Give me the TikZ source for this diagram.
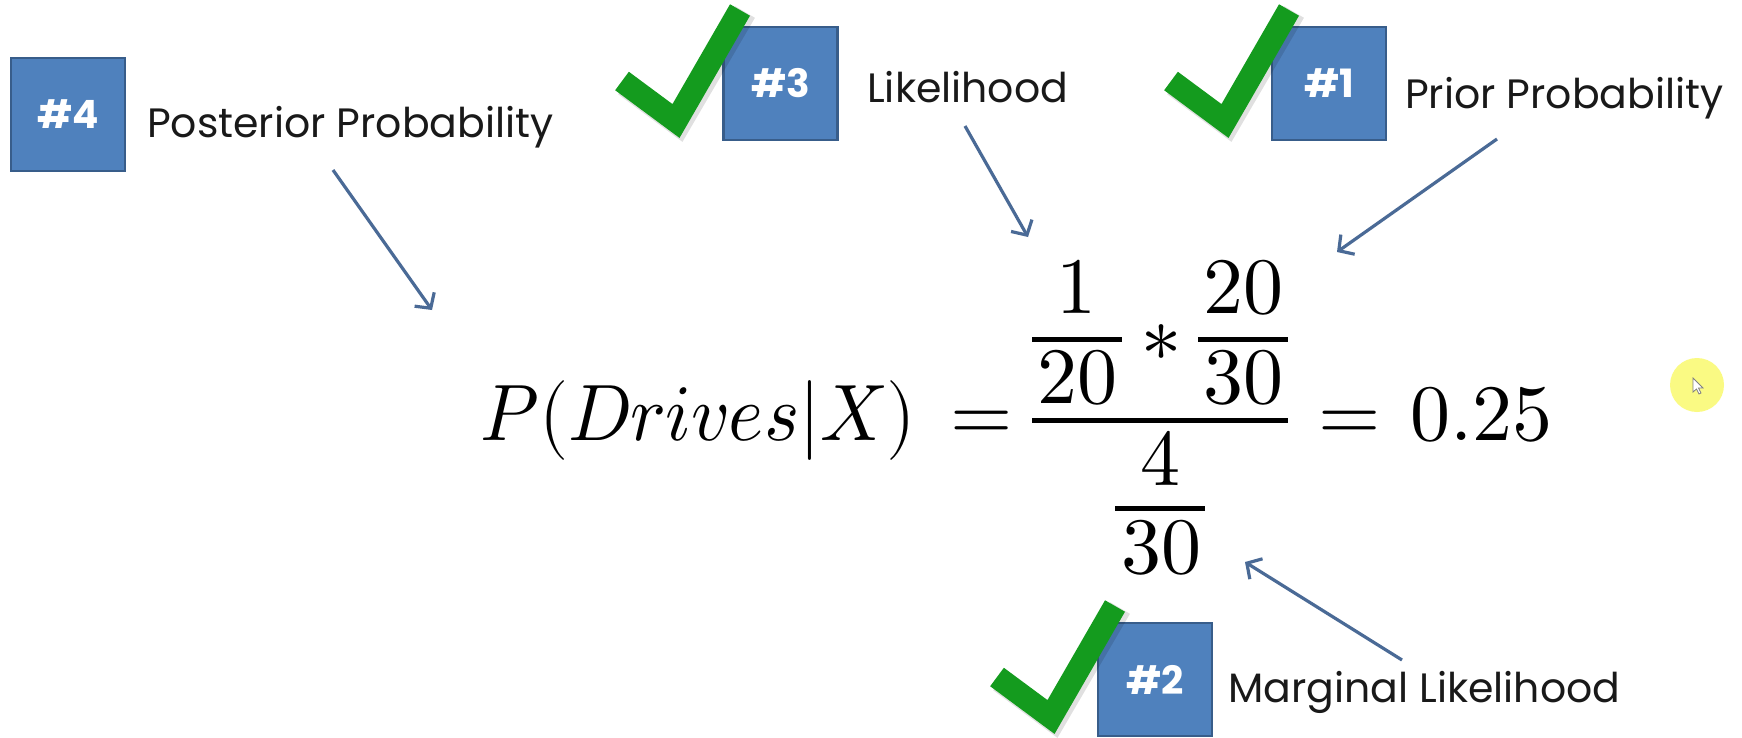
\documentclass[tikz,border=0pt]{standalone}
\usepackage{fontspec}
\usepackage{unicode-math}
\setmathfont{Latin Modern Math}
\newfontfamily\lab{Poppins}
\usetikzlibrary{arrows.meta}
\definecolor{boxblue}{RGB}{79,129,189}
\definecolor{boxedge}{RGB}{56,93,138}
\definecolor{arrowblue}{RGB}{74,106,150}
\definecolor{tickgreen}{RGB}{20,155,30}
\definecolor{labtext}{RGB}{25,25,25}
\definecolor{cursorylw}{RGB}{250,250,110}
\tikzset{
 numbox/.style={fill=boxblue, draw=boxedge, line width=2.5pt, minimum width=114pt, minimum height=113pt, inner sep=0pt, text=white, font=\lab\bfseries\fontsize{39}{47}\selectfont},
 lbl/.style={anchor=base west, inner sep=0pt, text=labtext, font=\lab\fontsize{41}{49}\selectfont},
 eq/.style={anchor=base, inner sep=0pt, font=\fontsize{80}{96}\selectfont},
 ptr/.style={draw=arrowblue, line width=3.2pt, -{Straight Barb[length=11pt,width=24pt]}},
 tick/.style={draw=tickgreen, line width=23pt, line join=miter, line cap=butt},
 tickshadow/.style={draw=black, opacity=0.12, line width=23pt, line join=miter, line cap=butt},
 fracbar/.style={line width=5pt, draw=black}
}
\begin{document}
\begin{tikzpicture}[x=1pt,y=-1pt]
\useasboundingbox (0,0) rectangle (1742,737);
\fill[white] (0,0) rectangle (1742,737);

% cursor highlight
\fill[cursorylw, opacity=0.85] (1697,385) circle[radius=27pt];
\filldraw[fill=white, draw=gray, line width=0.8pt, shift={(1693,378)}]
  (0,0) -- (0,14) -- (3.5,11) -- (6,16) -- (8,15) -- (5.5,10) -- (10,10) -- cycle;

% numbered boxes
\node[numbox] (b4) at (68,114.5) {\#4};
\node[numbox] (b3) at (780.5,83.5) {\#3};
\node[numbox] (b1) at (1329,83.5) {\#1};
\node[numbox] (b2) at (1155,679.5) {\#2};

% check marks
\draw[tickshadow] (625,85) -- (679,125) -- (745,12);
\draw[tick] (622,81) -- (676,121) -- (740,10);
\draw[tickshadow] (1174,85) -- (1228,125) -- (1294,12);
\draw[tick] (1171,81) -- (1225,121) -- (1289,10);
\draw[tickshadow] (1000,681) -- (1054,721) -- (1120,608);
\draw[tick] (997,677) -- (1051,717) -- (1115,606);

% labels
\node[lbl] (l4) at (147,137) {Posterior Probability};
\node[lbl] (l3) at (867,102) {Likelihood};
\node[lbl] (l1) at (1405,108) {Prior Probability};
\node[lbl] (l2) at (1228,702) {Marginal Likelihood};

% equation
\node[eq, anchor=base west] (lhs) at (480,440) {\scalebox{0.94}[1]{$P(Drives|X)$}};
\node[eq] (eq1) at (982,440) {$=$};
\node[eq] (n1) at (1076,313) {$1$};
\node[eq] (d1) at (1077,403) {$20$};
\node[eq] (ast) at (1161,361) {$\ast$};
\node[eq] (n2) at (1243,313) {$20$};
\node[eq] (d2) at (1243,403) {$30$};
\node[eq] (n3) at (1160,485) {$4$};
\node[eq] (d3) at (1161,573) {$30$};
\node[eq] (eq2) at (1350,440) {$=$};
\node[eq, anchor=base west] (res) at (1410,440) {$0.25$};
\draw[fracbar] (1032,339) -- (1122,339);
\draw[fracbar] (1198,339) -- (1288,339);
\draw[fracbar] (1032,420) -- (1288,420);
\draw[fracbar] (1115,508) -- (1205,508);

% arrows
\coordinate (s4) at (333,170); \coordinate (t4) at (432,310);
\coordinate (s3) at (965,126); \coordinate (t3) at (1028,237);
\coordinate (s1) at (1497,139); \coordinate (t1) at (1337,252);
\coordinate (s2) at (1402,660); \coordinate (t2) at (1245,562);
\draw[ptr] (s4) -- (t4);
\draw[ptr] (s3) -- (t3);
\draw[ptr] (s1) -- (t1);
\draw[ptr] (s2) -- (t2);
\end{tikzpicture}
\end{document}
